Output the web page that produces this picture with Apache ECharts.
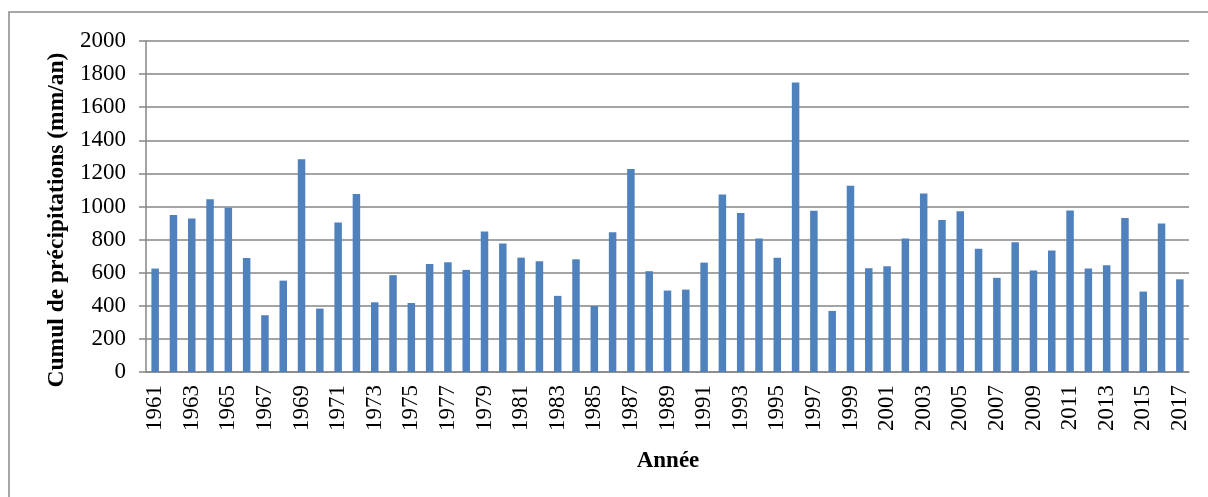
<!DOCTYPE html>
<html>
<head>
<meta charset="utf-8">
<script src="https://cdn.jsdelivr.net/npm/echarts@6/dist/echarts.min.js"></script>
<style>
html,body{margin:0;padding:0;background:#fff;}
#main{width:1208px;height:497px;}
</style>
</head>
<body>
<div id="main"></div>
<script>
var years = [];
for (var y = 1961; y <= 2017; y++) years.push(String(y));

var precip = [
  625, 948, 927, 1044, 992, 689, 343, 552, 1286, 383,
  903, 1075, 421, 585, 417, 653, 663, 617, 849, 776,
  691, 669, 460, 681, 399, 845, 1226, 609, 492, 498,
  661, 1073, 960, 806, 691, 1750, 974, 369, 1125, 627,
  639, 806, 1079, 919, 972, 744, 569, 784, 613, 734,
  976, 625, 645, 931, 486, 897, 560
];

var yTitle = 'Cumul de précipitations (mm/an)';
var xTitle = 'Année';

var font = "'Liberation Serif', 'Times New Roman', serif";
var chart = echarts.init(document.getElementById('main'));
chart.setOption({
  animation: false,
  backgroundColor: '#fff',
  grid: { left: 146, right: 19, top: 41, bottom: 125 },
  graphic: [
    { type: 'rect', shape: { x: 9, y: 12, width: 1400, height: 700 },
      style: { fill: 'none', stroke: '#8a8a8a', lineWidth: 1.5 }, silent: true },
    { type: 'text', x: 57, y: 220, rotation: Math.PI / 2,
      style: { text: yTitle, font: "bold 23.5px " + font, fill: '#000', textAlign: 'center', textVerticalAlign: 'middle' } },
    { type: 'text', x: 668, y: 461,
      style: { text: xTitle, font: "bold 23px " + font, fill: '#000', textAlign: 'center', textVerticalAlign: 'middle' } }
  ],
  xAxis: {
    type: 'category',
    data: years,
    axisLine: { lineStyle: { color: '#868686', width: 1.5 } },
    axisTick: { show: false },
    axisLabel: { interval: 1, rotate: 90, margin: 13, color: '#000', fontFamily: font, fontSize: 23 },
    splitLine: { show: false }
  },
  yAxis: {
    type: 'value',
    min: 0, max: 2000, interval: 200,
    axisLine: { show: true, lineStyle: { color: '#868686', width: 1.5 } },
    axisTick: { show: true, length: 7, lineStyle: { color: '#868686', width: 1.5 } },
    axisLabel: { margin: 20, color: '#000', fontFamily: font, fontSize: 23, formatter: function (v) { return String(v); } },
    splitLine: { lineStyle: { color: '#868686', width: 1.5 } }
  },
  series: [{
    type: 'bar',
    data: precip,
    barWidth: 7.5,
    itemStyle: { color: '#4F81BD' }
  }]
});
</script>
</body>
</html>
